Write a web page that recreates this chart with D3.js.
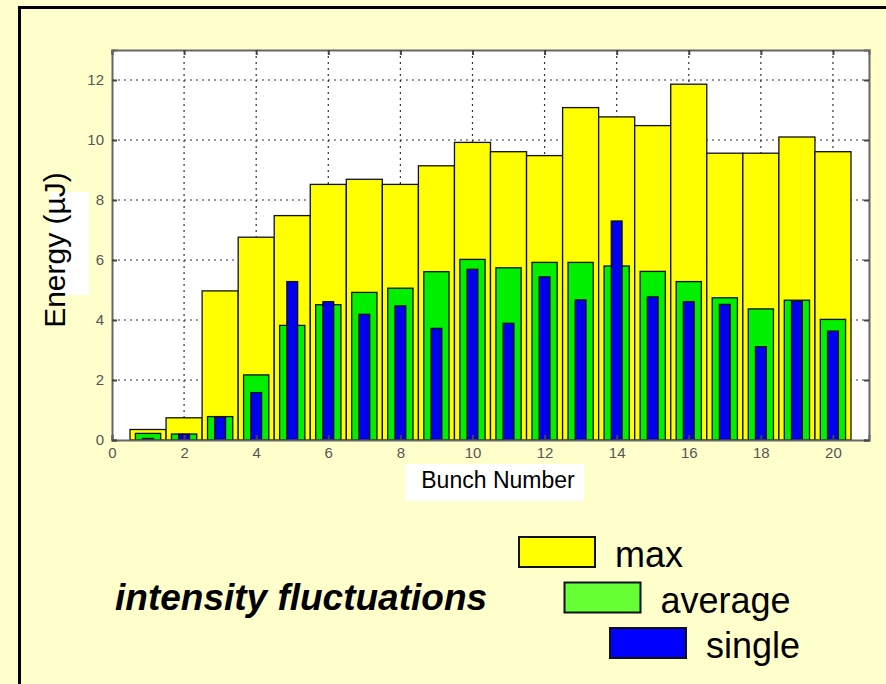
<!DOCTYPE html>
<html lang="en">
<head>
<meta charset="UTF-8">
<title>Intensity fluctuations</title>
<script src="https://cdn.jsdelivr.net/npm/d3@7"></script>
<style>
  body { margin: 0; background: #ffffcc; }
  svg { display: block; }
</style>
</head>
<body>
<div id="chart"></div>
<script>
// bunch numbers and energies (uJ)
var bunches = d3.range(1, 21);
var maxEnergy = [0.35, 0.74, 4.97, 6.76, 7.48, 8.52, 8.69, 8.52, 9.14, 9.92,
                 9.61, 9.48, 11.08, 10.77, 10.48, 11.86, 9.56, 9.56, 10.1, 9.61];
var avgEnergy = [0.22, 0.2, 0.78, 2.17, 3.82, 4.51, 4.92, 5.06, 5.61, 6.02,
                 5.74, 5.92, 5.92, 5.8, 5.62, 5.28, 4.74, 4.37, 4.66, 4.02];
var singleEnergy = [0.05, 0.19, 0.76, 1.58, 5.28, 4.61, 4.19, 4.47, 3.72, 5.69,
                    3.89, 5.44, 4.67, 7.3, 4.77, 4.61, 4.52, 3.11, 4.63, 3.63];
var xTicks = [0, 2, 4, 6, 8, 10, 12, 14, 16, 18, 20];
var yTicks = [0, 2, 4, 6, 8, 10, 12];
var legendItems = ["max", "average", "single"];

var width = 886, height = 684;
var plot = {left: 112, top: 50, right: 869, bottom: 440};
var font = "Arial, Liberation Sans, sans-serif";

var svg = d3.select("#chart").append("svg")
    .attr("width", width)
    .attr("height", height);

svg.append("rect").attr("width", width).attr("height", height).attr("fill", "#ffffcc");

// black frame, only top and left edges show
svg.append("rect")
    .attr("x", 19.5).attr("y", 7.5)
    .attr("width", 900).attr("height", 700)
    .attr("fill", "none").attr("stroke", "#000").attr("stroke-width", 3);

var x = d3.scaleLinear().domain([0, 21]).range([plot.left, plot.right]);
var y = d3.scaleLinear().domain([0, 13]).range([plot.bottom, plot.top]);

svg.append("rect")
    .attr("x", plot.left).attr("y", plot.top)
    .attr("width", plot.right - plot.left).attr("height", plot.bottom - plot.top)
    .attr("fill", "#fff");

// dotted grid
var grid = svg.append("g").attr("stroke", "#333").attr("stroke-width", 1.2)
    .attr("stroke-dasharray", "2,4");
grid.selectAll(".gx").data(xTicks.filter(function(d){ return d > 0; }))
  .enter().append("line")
    .attr("x1", function(d){ return x(d); }).attr("x2", function(d){ return x(d); })
    .attr("y1", plot.top).attr("y2", plot.bottom);
grid.selectAll(".gy").data(yTicks.filter(function(d){ return d > 0; }))
  .enter().append("line")
    .attr("y1", function(d){ return y(d); }).attr("y2", function(d){ return y(d); })
    .attr("x1", plot.left).attr("x2", plot.right);

// bars: max (full width), average, single
function drawBars(values, frac, color) {
    svg.append("g").selectAll("rect").data(values).enter().append("rect")
        .attr("x", function(d, i){ return x(bunches[i] - frac / 2); })
        .attr("width", x(frac) - x(0))
        .attr("y", function(d){ return y(d); })
        .attr("height", function(d){ return y(0) - y(d); })
        .attr("fill", color)
        .attr("stroke", "#111")
        .attr("stroke-width", 1.3);
}
drawBars(maxEnergy, 1.0, "#ffff00");
drawBars(avgEnergy, 0.7, "#00f000");
drawBars(singleEnergy, 0.3, "#0000ee");

// axes box
var axisG = svg.append("g");
axisG.append("g").attr("transform", "translate(0," + plot.bottom + ")")
    .call(d3.axisBottom(x).tickValues(xTicks).tickSize(-5).tickPadding(7));
axisG.append("g").attr("transform", "translate(0," + plot.top + ")")
    .call(d3.axisTop(x).tickValues(xTicks).tickSize(-5).tickFormat(""));
axisG.append("g").attr("transform", "translate(" + plot.left + ",0)")
    .call(d3.axisLeft(y).tickValues(yTicks).tickSize(-5).tickPadding(8));
axisG.append("g").attr("transform", "translate(" + plot.right + ",0)")
    .call(d3.axisRight(y).tickValues(yTicks).tickSize(-5).tickFormat(""));
axisG.selectAll(".domain").attr("stroke", "#666").attr("stroke-width", 2);
axisG.selectAll(".tick line").attr("stroke", "#444").attr("stroke-width", 2);
axisG.selectAll(".tick text")
    .attr("font-family", font)
    .attr("font-size", 15).attr("fill", "#555");

// axis labels
svg.append("rect").attr("x", 50).attr("y", 192).attr("width", 39).attr("height", 103).attr("fill", "#fff");
svg.append("text")
    .attr("transform", "translate(65,250) rotate(-90)")
    .attr("text-anchor", "middle")
    .attr("font-family", font)
    .attr("font-size", 30)
    .text("Energy (\u00b5J)");

svg.append("rect").attr("x", 405).attr("y", 464).attr("width", 179).attr("height", 37).attr("fill", "#fff");
svg.append("text")
    .attr("x", 498).attr("y", 488)
    .attr("text-anchor", "middle")
    .attr("font-family", font)
    .attr("font-size", 23)
    .text("Bunch Number");

svg.append("text")
    .attr("x", 115).attr("y", 610)
    .attr("font-family", font)
    .attr("font-size", 37).attr("font-weight", "bold").attr("font-style", "italic")
    .text("intensity fluctuations");

// legend
var legendColors = ["#ffff00", "#66ff33", "#0000ff"];
var leg = svg.append("g").selectAll("g").data(legendItems).enter().append("g")
    .attr("transform", function(d, i){ return "translate(" + (519 + i * 45.5) + "," + (537 + i * 45.5) + ")"; });
leg.append("rect")
    .attr("width", 76).attr("height", 30)
    .attr("fill", function(d, i){ return legendColors[i]; })
    .attr("stroke", "#111").attr("stroke-width", 2);
leg.append("text")
    .attr("x", 96).attr("y", 30)
    .attr("font-family", font)
    .attr("font-size", 36)
    .text(function(d){ return d; });
</script>
</body>
</html>
